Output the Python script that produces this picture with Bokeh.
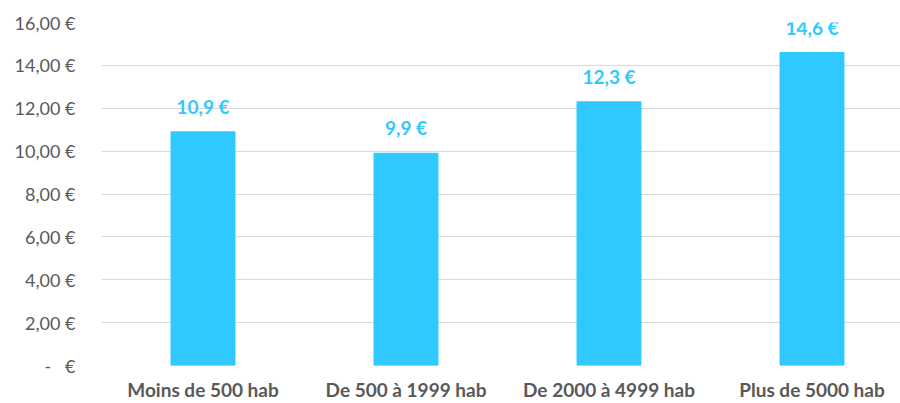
from bokeh.plotting import figure
from bokeh.models import FixedTicker, ColumnDataSource, LabelSet
from bokeh.core.properties import value
from bokeh.embed import file_html
from bokeh.resources import INLINE

categories = ["Moins de 500 hab", "De 500 à 1999 hab", "De 2000 à 4999 hab", "Plus de 5000 hab"]
values = [10.9, 9.9, 12.3, 14.6]
value_labels = ["10,9 €", "9,9 €", "12,3 €", "14,6 €"]
y_ticks = [0, 2, 4, 6, 8, 10, 12, 14, 16]
y_tick_labels = ["-\u00a0\u00a0\u00a0€", "2,00 €", "4,00 €", "6,00 €", "8,00 €", "10,00 €", "12,00 €", "14,00 €", "16,00 €"]

xs = list(range(1, len(categories) + 1))
src = ColumnDataSource(dict(x=xs, top=values, lab=value_labels))

BAR = "#30C9FF"
p = figure(width=900, height=403, output_backend="svg", toolbar_location=None,
           x_range=(0.5, 4.436), y_range=(0, 16))
p.min_border_top = 22
p.min_border_bottom = 0
p.min_border_left = 101
p.min_border_right = 0
p.outline_line_color = None
p.background_fill_color = "white"

p.vbar(x="x", top="top", width=0.315, source=src, color=BAR)
labels = LabelSet(x="x", y="top", text="lab", source=src, text_align="center",
                  text_baseline="bottom", y_offset=14, text_font=value("Lato"),
                  text_font_style="bold", text_font_size="19px", text_color=BAR)
p.add_layout(labels)

p.xgrid.grid_line_color = None
p.ygrid.grid_line_color = "#D9D9D9"
p.ygrid.grid_line_width = 1.2
p.yaxis.ticker = FixedTicker(ticks=y_ticks)
p.yaxis.major_label_overrides = {t: l for t, l in zip(y_ticks, y_tick_labels)}
p.xaxis.ticker = FixedTicker(ticks=xs)
p.xaxis.major_label_overrides = {x: c for x, c in zip(xs, categories)}

for ax in (p.xaxis, p.yaxis):
    ax.axis_line_color = None
    ax.major_tick_line_color = None
    ax.minor_tick_line_color = None
    ax.major_tick_out = 0
    ax.major_tick_in = 0
    ax.minor_tick_out = 0
    ax.minor_tick_in = 0
    ax.major_label_text_font = "Lato"
    ax.major_label_text_color = "#595959"
    ax.major_label_text_font_size = "18px"
p.xaxis.major_label_text_font_style = "bold"
p.xaxis.major_label_text_font_size = "19px"
p.xaxis.major_label_standoff = 12
p.yaxis.major_label_standoff = 26

open("out.html", "w").write(file_html(p, INLINE))
